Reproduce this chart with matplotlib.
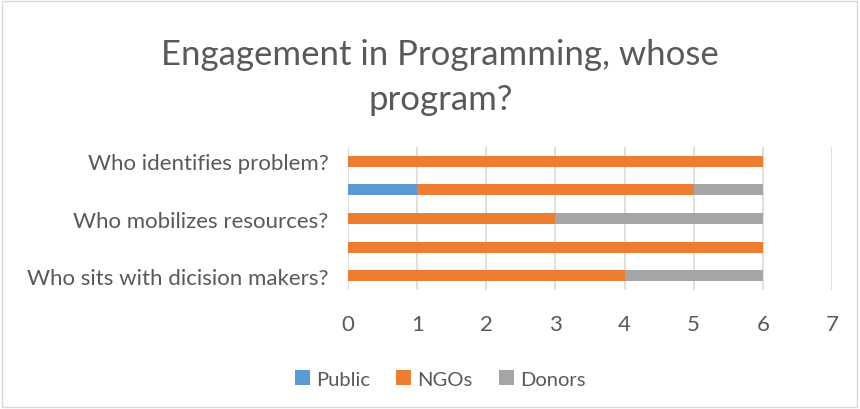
import matplotlib
matplotlib.use("Agg")
import matplotlib.pyplot as plt
import numpy as np

# categories top -> bottom; every other label is hidden in the original
categories = ["Who identifies problem?", "", "Who mobilizes resources?", "",
              "Who sits with dicision makers?"]
public = [0, 1, 0, 0, 0]
ngos = [6, 4, 3, 6, 4]
donors = [0, 1, 3, 0, 2]
xticks = [0, 1, 2, 3, 4, 5, 6, 7]

plt.rcParams["font.family"] = ["Lato", "DejaVu Sans"]
txt = "#595959"

fig = plt.figure(figsize=(8.6, 4.1), dpi=100)
ax = fig.add_axes([0.4047, 0.290, 0.5627, 0.349])

y = np.arange(len(categories))
h = 0.38
ax.barh(y, public, h, color="#5b9bd5", label="Public")
ax.barh(y, ngos, h, left=public, color="#ed7d31", label="NGOs")
left2 = np.array(public) + np.array(ngos)
ax.barh(y, donors, h, left=left2, color="#a5a5a5", label="Donors")

ax.set_ylim(len(categories) - 0.5, -0.5)
ax.set_xlim(0, 7)
ax.set_xticks(xticks)
ax.set_yticks(y)
ax.set_yticklabels(categories)
ax.grid(axis="x", color="#d9d9d9", linewidth=1.2)
ax.set_axisbelow(True)
for s in ax.spines.values():
    s.set_visible(False)
ax.tick_params(length=0, labelcolor=txt, labelsize=16)
ax.tick_params(axis="x", pad=17)
ax.tick_params(axis="y", pad=14)

fig.text(0.512, 0.812, "Engagement in Programming, whose\nprogram?", ha="center",
         va="center", fontsize=25, color=txt, linespacing=1.5)

fig.legend(loc="center", bbox_to_anchor=(0.512, 0.073), ncol=3, frameon=False,
           fontsize=14.5, labelcolor=txt, handlelength=0.75, handleheight=0.75,
           handletextpad=0.3, columnspacing=1.3)

fig.patches.append(plt.Rectangle((0.002, 0.004), 0.995, 0.992, transform=fig.transFigure,
                                 fill=False, edgecolor="#d9d9d9", linewidth=1))
fig.savefig("out.png", dpi=100)
